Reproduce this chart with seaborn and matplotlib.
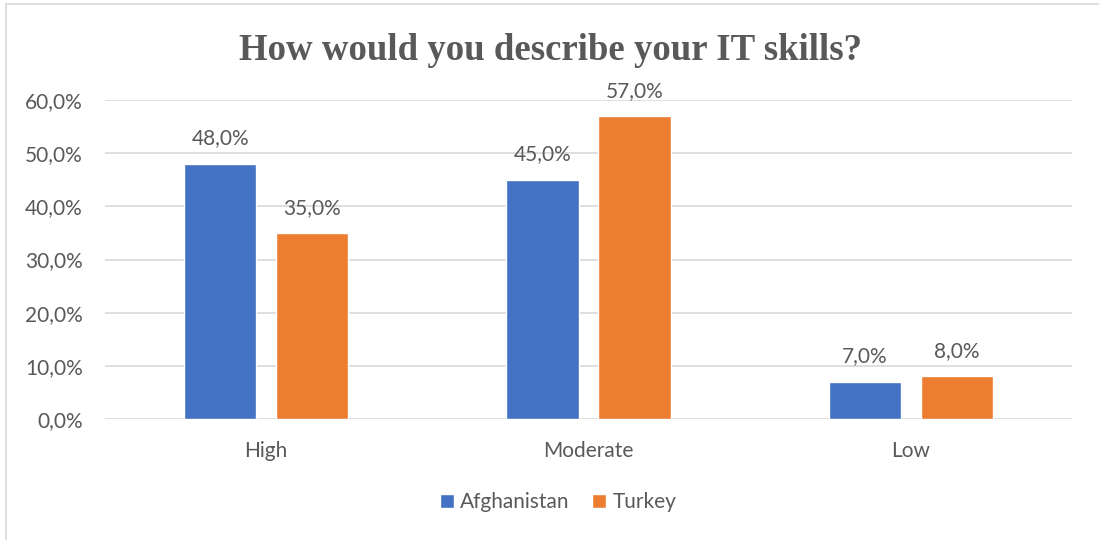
import matplotlib
matplotlib.use("Agg")
import matplotlib.pyplot as plt
from matplotlib.patches import Rectangle
from matplotlib.ticker import FuncFormatter
import seaborn as sns
import pandas as pd

categories = ["High", "Moderate", "Low"]
afghanistan = [48.0, 45.0, 7.0]
turkey = [35.0, 57.0, 8.0]
series_names = ["Afghanistan", "Turkey"]
colors = ["#4472C4", "#ED7D31"]
y_ticks = [0, 10, 20, 30, 40, 50, 60]
title = "How would you describe your IT skills?"

df = pd.DataFrame({
    "category": categories * 2,
    "value": afghanistan + turkey,
    "country": [series_names[0]] * 3 + [series_names[1]] * 3,
})

sns.set_theme(style="white")
plt.rcParams["font.family"] = ["Lato", "DejaVu Sans"]
text_color = "#595959"
fs = 15

fig = plt.figure(figsize=(10.99, 5.40), dpi=100)
ax = fig.add_axes([105 / 1099, 1 - 419 / 540, (1072 - 105) / 1099, (419 - 100) / 540])

sns.barplot(data=df, x="category", y="value", hue="country", order=categories,
            hue_order=series_names, palette=colors, width=0.571, gap=0.216,
            saturation=1, ax=ax, legend=True)

ax.set_xlim(-0.5, 2.5)
ax.set_ylim(0, 60)
ax.set_yticks(y_ticks)
ax.yaxis.set_major_formatter(FuncFormatter(lambda v, p: f"{v:.1f}%".replace(".", ",")))
ax.grid(axis="y", color="#D9D9D9", linewidth=1.2)
ax.set_axisbelow(True)
for s in ax.spines.values():
    s.set_visible(False)
ax.set_xlabel("")
ax.set_ylabel("")
ax.tick_params(axis="both", length=0, labelsize=fs, colors=text_color)
ax.tick_params(axis="y", pad=16)
ax.tick_params(axis="x", pad=16)

for container in ax.containers:
    ax.bar_label(container, labels=[f"{v:.1f}%".replace(".", ",") for v in container.datavalues],
                 padding=11, fontsize=fs, color=text_color)

leg = ax.legend(loc="center", bbox_to_anchor=(558 / 1099, 1 - 502 / 540),
                bbox_transform=fig.transFigure, ncol=2, frameon=False,
                fontsize=fs, handlelength=0.67, handleheight=0.67,
                handletextpad=0.3, columnspacing=1.1)
for t in leg.get_texts():
    t.set_color(text_color)

fig.text(551 / 1099, 1 - 60 / 540, title, ha="center", va="baseline",
         fontsize=26.5, fontweight="bold", color=text_color,
         family=["Liberation Serif", "DejaVu Serif"])

fig.patches.append(Rectangle((6 / 1099, -0.1), 1.2, 1 - 4 / 540 + 0.1,
                             transform=fig.transFigure, fill=False,
                             edgecolor="#D9D9D9", linewidth=1.2))

fig.savefig("out.png", dpi=100, facecolor="white")
